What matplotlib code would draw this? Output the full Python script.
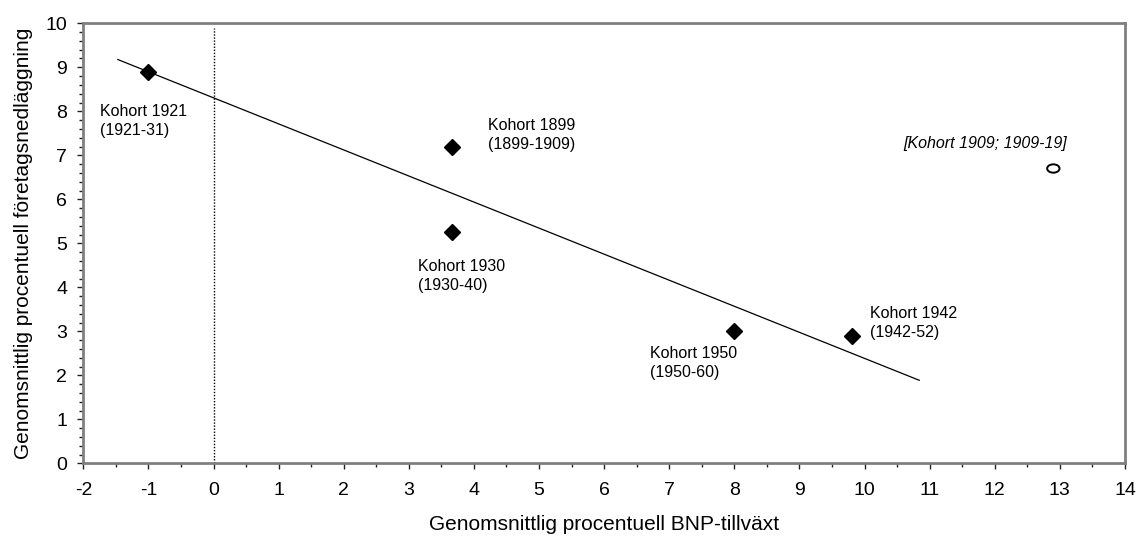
import numpy as np
import matplotlib
matplotlib.use("Agg")
import matplotlib.pyplot as plt
from matplotlib.patches import Ellipse
from matplotlib.ticker import MultipleLocator

plt.rcParams['font.family'] = ['Liberation Sans', 'DejaVu Sans']
plt.rcParams['axes.unicode_minus'] = False

# Data
cohort_labels = ["Kohort 1921\n(1921-31)", "Kohort 1899\n(1899-1909)", "Kohort 1930\n(1930-40)",
                 "Kohort 1950\n(1950-60)", "Kohort 1942\n(1942-52)"]
gdp_growth = [-1.0, 3.67, 3.67, 8.0, 9.81]
closure_rate = [8.9, 7.18, 5.25, 3.0, 2.9]

outlier_label = "[Kohort 1909; 1909-19]"
outlier_gdp = [12.9]
outlier_closure = [6.7]

trend_range = [-1.47, 10.84]

# Label positions (data coords, top-left anchor)
label_pos = [(-1.74, 8.17), (4.21, 7.85), (3.14, 4.65), (6.70, 2.67), (10.09, 3.57)]
outlier_label_pos = (10.6, 7.45)

fig = plt.figure(figsize=(11.37, 5.38), dpi=100)
ax = fig.add_axes([0.0733, 0.1388, 0.9161, 0.8179])

ax.set_xlim(-2, 14)
ax.set_ylim(0, 10)

# trend line (least squares through the five cohorts)
slope, intercept = np.polyfit(gdp_growth, closure_rate, 1)
tx = np.array(trend_range)
ax.plot(tx, slope * tx + intercept, color='black', lw=0.9, zorder=2)

# zero line
ax.axvline(0, ymin=0, ymax=0.99, color='black', lw=1.0, ls=(0, (1, 1.2)), zorder=1)

ax.plot(gdp_growth, closure_rate, ls='none', marker='D', ms=8, color='black', zorder=3)

# open elliptical marker for the excluded cohort (size in data units = style)
for ox, oy in zip(outlier_gdp, outlier_closure):
    ax.add_patch(Ellipse((ox, oy), width=0.19, height=0.19, facecolor='white',
                         edgecolor='black', lw=1.4, zorder=3))

for lab, (lx, ly) in zip(cohort_labels, label_pos):
    ax.text(lx, ly, lab, ha='left', va='top', fontsize=11.5, linespacing=1.33)
ax.text(outlier_label_pos[0], outlier_label_pos[1], outlier_label, ha='left', va='top',
        fontsize=11.5, style='italic')

ax.xaxis.set_major_locator(MultipleLocator(1))
ax.xaxis.set_minor_locator(MultipleLocator(0.5))
ax.yaxis.set_major_locator(MultipleLocator(1))
ax.yaxis.set_minor_locator(MultipleLocator(0.2))
ax.tick_params(which='major', direction='out', length=4.6, width=1, color='#222222',
               labelsize=14)
ax.tick_params(which='minor', direction='out', length=3, width=1, color='#222222')
ax.tick_params(axis='x', which='major', pad=8.5)
ax.tick_params(axis='y', which='major', pad=7)

for sp in ax.spines.values():
    sp.set_color('#808080')
    sp.set_linewidth(2)

ax.set_xlabel("Genomsnittlig procentuell BNP-tillväxt", fontsize=15, labelpad=12)
ax.set_ylabel("Genomsnittlig procentuell företagsnedläggning", fontsize=15, labelpad=9)

fig.savefig("out.png", dpi=100)
